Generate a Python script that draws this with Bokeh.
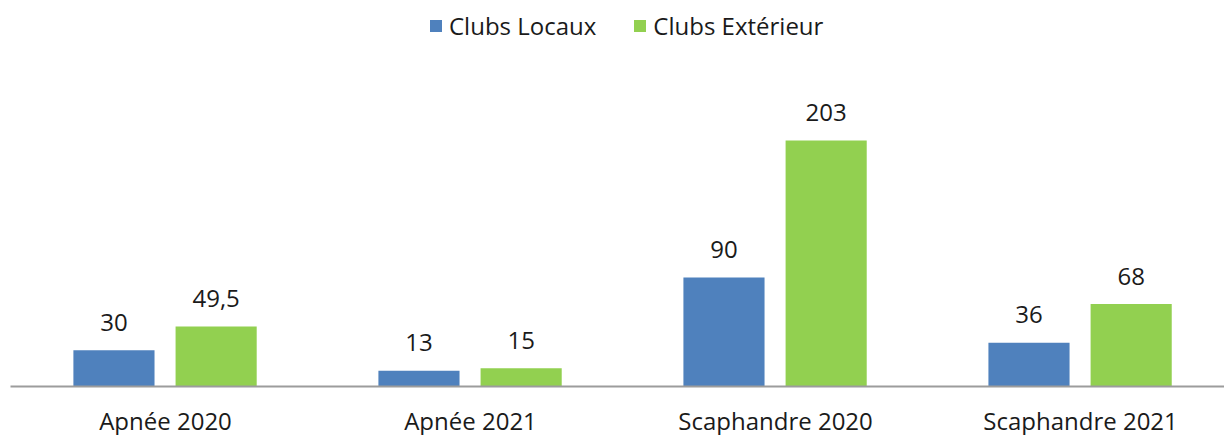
from bokeh.plotting import figure
from bokeh.models import Range1d, FixedTicker, ColumnDataSource, Legend, LegendItem
from bokeh.core.properties import value
from bokeh.embed import file_html
from bokeh.resources import INLINE

categories = ["Apnée 2020", "Apnée 2021", "Scaphandre 2020", "Scaphandre 2021"]
clubs_locaux = [30, 13, 90, 36]
clubs_exterieur = [49.5, 15, 203, 68]
series_names = ["Clubs Locaux", "Clubs Extérieur"]
colors = ["#4F81BD", "#92D050"]

FONT = "Open Sans"
TXT = "#1a1a1a"


def fmt(v):
    s = ("%g" % v)
    return s.replace(".", ",")


centers = [i + 0.5 for i in range(len(categories))]
bar_w = 0.266
offsets = [-0.169, 0.166]

p = figure(width=1224, frame_width=1214, frame_height=378,
           x_range=Range1d(-0.0082, 3.972), y_range=Range1d(0, 311.9),
           toolbar_location=None, output_backend="svg",
           min_border_left=10, min_border_right=0, min_border_top=8,
           y_axis_location=None)
p.xgrid.visible = False
p.ygrid.visible = False
p.outline_line_color = None
p.background_fill_color = "white"
p.border_fill_color = "white"

renderers = []
for k, vals in enumerate([clubs_locaux, clubs_exterieur]):
    src = ColumnDataSource(dict(
        x=[c + offsets[k] for c in centers],
        top=vals,
        lab=[fmt(v) for v in vals],
    ))
    r = p.vbar(x="x", top="top", width=bar_w, bottom=0, source=src,
               fill_color=colors[k], line_color=None)
    renderers.append(r)
    p.text(x="x", y="top", text="lab", source=src,
           text_align="center", text_baseline="alphabetic", y_offset=-28,
           text_font=value(FONT), text_font_size="24px", text_color=TXT)

ax = p.xaxis[0]
ax.ticker = FixedTicker(ticks=centers)
ax.major_label_overrides = {c: lab for c, lab in zip(centers, categories)}
ax.major_tick_line_color = None
ax.minor_tick_line_color = None
ax.major_tick_out = 0
ax.major_tick_in = 0
ax.major_label_standoff = 17
ax.axis_line_color = "#9c9c9c"
ax.axis_line_width = 2
ax.major_label_text_font = FONT
ax.major_label_text_font_size = "24px"
ax.major_label_text_color = TXT

legend = Legend(items=[LegendItem(label=series_names[i], renderers=[renderers[i]]) for i in range(2)],
                orientation="horizontal", location=(418, 344),
                glyph_width=15, glyph_height=15, label_standoff=6, spacing=36,
                padding=0, margin=0, border_line_color=None, background_fill_alpha=0,
                label_text_font=FONT, label_text_font_size="24px", label_text_color=TXT)
p.add_layout(legend)

open("out.html", "w").write(file_html(p, INLINE))
